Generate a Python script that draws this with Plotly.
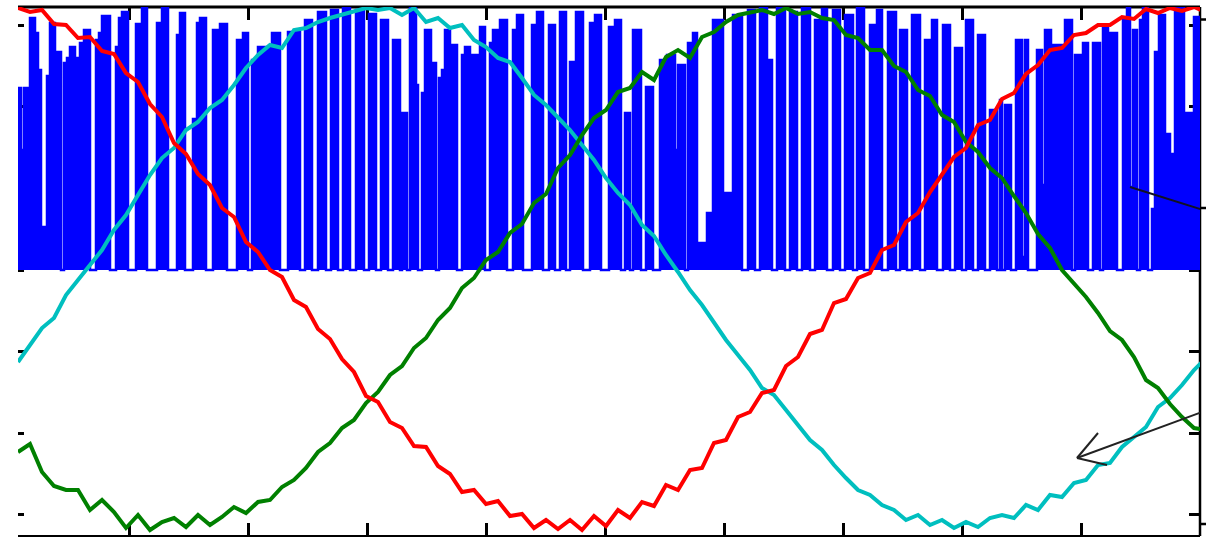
import numpy as np
import plotly.graph_objects as go

# time base: sample index (one sample per step of the current record)
n_cur = np.arange(8, 1207, 12)

# phase currents (A)
ia = [262, 258, 260, 246, 245, 232, 233, 219, 216, 197, 188, 166, 153, 127, 116, 96, 85, 62, 53, 28,
      18, 0, -7, -30, -37, -59, -69, -89, -102, -126, -132, -152, -158, -176, -177, -196, -204, -222, -220, -234,
      -231, -246, -244, -258, -250, -259, -250, -260, -246, -256, -240, -248, -232, -236, -215, -220, -200, -198, -173, -170,
      -147, -142, -123, -120, -96, -87, -64, -60, -33, -29, -8, -3, 20, 25, 48, 57, 78, 95, 113, 122,
      145, 150, 171, 177, 196, 205, 220, 222, 235, 237, 245, 245, 253, 251, 261, 257, 262, 259, 263, 258]
ib = [-182, -174, -202, -216, -220, -220, -240, -230, -242, -258, -245, -260, -252, -248, -257, -245, -255, -247, -237, -243,
      -232, -230, -217, -210, -198, -182, -173, -158, -150, -133, -122, -105, -96, -78, -68, -50, -38, -18, -8, 10,
      18, 37, 46, 67, 76, 102, 115, 135, 152, 160, 178, 182, 198, 190, 213, 220, 212, 233, 238, 248,
      255, 258, 260, 256, 262, 256, 258, 252, 250, 235, 232, 220, 220, 204, 198, 180, 174, 155, 148, 128,
      118, 102, 92, 74, 57, 36, 22, 0, -13, -27, -43, -61, -70, -87, -110, -118, -134, -147, -158, -160]
ic = [-92, -75, -58, -48, -25, -10, 5, 20, 40, 55, 75, 95, 112, 122, 140, 148, 162, 170, 185, 202,
      215, 225, 222, 240, 242, 248, 252, 255, 258, 262, 260, 262, 255, 262, 248, 252, 242, 245, 230, 223,
      212, 208, 192, 175, 165, 152, 140, 125, 110, 92, 77, 65, 45, 34, 15, -2, -20, -35, -52, -70,
      -85, -100, -118, -125, -140, -155, -170, -180, -195, -208, -220, -225, -235, -240, -250, -245, -255, -250, -258, -252,
      -257, -248, -245, -248, -235, -240, -225, -227, -213, -210, -195, -193, -177, -167, -157, -137, -128, -115, -100, -88]

# inverter output voltage pulses: start sample, end sample, level (V); zero between pulses
pulse_start = [8, 11, 14, 20, 25, 28, 31, 37, 40, 45, 54, 57, 60, 65, 70, 74, 86, 89, 92, 106, 109, 112,
               126, 132, 147, 152, 167, 170, 183, 187, 190, 203, 210, 227, 233, 242, 248, 262, 278, 295, 308, 321,
               333, 346, 359, 371, 383, 392, 400, 406, 412, 415, 421, 429, 432, 435, 440, 452, 455, 460, 470, 480,
               483, 490, 503, 507, 522, 527, 539, 550, 560, 566, 580, 585, 599, 605, 615, 623, 636, 650, 657, 665,
               668, 678, 683, 687, 697, 703, 713, 723, 738, 750, 757, 767, 780, 792, 805, 812, 823, 835, 847, 860,
               867, 878, 890, 902, 915, 922, 933, 945, 956, 968, 980, 990, 995, 1006, 1012, 1015, 1027, 1032, 1035, 1041,
               1055, 1065, 1073, 1083, 1093, 1098, 1113, 1117, 1120, 1123, 1130, 1133, 1142, 1145, 1149, 1155, 1160, 1165, 1174, 1184]
pulse_end = [11, 14, 20, 25, 28, 31, 37, 40, 45, 51, 57, 60, 65, 70, 74, 80, 89, 92, 100, 109, 112, 118,
             132, 137, 152, 158, 170, 175, 187, 190, 196, 210, 217, 233, 238, 248, 260, 270, 290, 302, 316, 328,
             340, 354, 366, 378, 390, 397, 406, 408, 415, 421, 426, 432, 435, 440, 447, 455, 460, 468, 475, 483,
             490, 497, 507, 513, 527, 533, 545, 556, 566, 573, 585, 591, 605, 611, 620, 631, 643, 657, 665, 668,
             675, 683, 687, 697, 703, 713, 723, 732, 745, 757, 762, 775, 787, 800, 812, 817, 830, 843, 854, 867,
             872, 886, 897, 910, 922, 927, 940, 952, 963, 975, 987, 992, 1001, 1012, 1015, 1018, 1032, 1035, 1041, 1055,
             1062, 1073, 1078, 1090, 1098, 1107, 1117, 1120, 1123, 1127, 1133, 1138, 1145, 1149, 1155, 1160, 1165, 1174, 1184, 1192]
pulse_level = [182, 120, 182, 252, 237, 200, 43, 194, 247, 218, 207, 212, 223, 212, 227, 240, 230, 237, 254, 223, 252, 258,
               246, 262, 247, 262, 235, 257, 151, 247, 252, 240, 246, 230, 237, 210, 223, 237, 238, 250, 258, 260,
               262, 260, 256, 250, 230, 157, 263, 185, 177, 240, 207, 192, 200, 240, 225, 215, 223, 215, 243, 227,
               240, 250, 240, 255, 245, 258, 245, 258, 208, 258, 247, 255, 243, 250, 157, 240, 183, 210, 215, 120,
               205, 227, 237, 27, 57, 250, 77, 255, 260, 262, 210, 262, 258, 262, 250, 261, 260, 255, 262, 245,
               260, 258, 240, 255, 230, 250, 245, 222, 250, 235, 160, 170, 165, 230, 13, 230, 220, 85, 240, 225,
               250, 215, 227, 227, 243, 237, 252, 263, 83, 240, 250, 262, 61, 218, 255, 136, 116, 263, 157, 253]

blue_n, blue_v = [], []
for i, (s, e, lv) in enumerate(zip(pulse_start, pulse_end, pulse_level)):
    blue_n.append(s)
    blue_v.append(lv)
    nxt = pulse_start[i + 1] if i + 1 < len(pulse_start) else None
    if nxt != e:
        blue_n.append(e)
        blue_v.append(0)

xticks = [119, 238, 357, 476, 595, 714, 833, 952, 1071, 1190]
yticks = [-244.8, -163.2, -81.6, 0, 81.6, 163.2, 244.8]
outer_right_ticks = [250.5, 62, -254]
XR = [8, 1190]
YR = [-266, 263]

fig = go.Figure()
fig.add_trace(go.Scatter(x=blue_n, y=blue_v, mode='lines', fill='tozeroy', fillcolor='#0000FF',
                         line=dict(color='#0000FF', width=2.5, shape='hv'), hoverinfo='skip'))
fig.add_trace(go.Scatter(x=n_cur, y=ic, mode='lines', line=dict(color='#00BFBF', width=4)))
fig.add_trace(go.Scatter(x=n_cur, y=ib, mode='lines', line=dict(color='#008000', width=4)))
fig.add_trace(go.Scatter(x=n_cur, y=ia, mode='lines', line=dict(color='#FF0000', width=4)))
fig.add_trace(go.Scatter(x=[None], y=[None], yaxis='y2', showlegend=False))

shapes = [
    dict(type='line', xref='paper', yref='paper', x0=0, x1=1, y0=1, y1=1, line=dict(color='black', width=3), layer='below'),
    dict(type='line', xref='paper', yref='paper', x0=1, x1=1, y0=0, y1=1, line=dict(color='black', width=2.5), layer='below'),
    dict(type='line', xref='paper', yref='paper', x0=0, x1=1, y0=0, y1=0, line=dict(color='black', width=2), layer='below'),
    # annotation arrows
    dict(type='line', xref='x', yref='y', x0=1120, y0=83, x1=1193, y1=60, line=dict(color='#111122', width=2)),
    dict(type='line', xref='x', yref='y', x0=1192, y0=-142, x1=1067, y1=-188, line=dict(color='#222222', width=2)),
    dict(type='line', xref='x', yref='y', x0=1067, y0=-188, x1=1088, y1=-163, line=dict(color='#222222', width=2)),
    dict(type='line', xref='x', yref='y', x0=1067, y0=-188, x1=1097, y1=-195, line=dict(color='#222222', width=2)),
]
for yv in outer_right_ticks:
    shapes.append(dict(type='line', xref='paper', yref='y', x0=1.0, x1=1.0 + 6 / 1182, y0=yv, y1=yv,
                       line=dict(color='black', width=2.5)))

fig.update_layout(
    width=1212, height=537, margin=dict(l=18, r=12, t=7, b=1),
    plot_bgcolor='white', paper_bgcolor='white', showlegend=False, shapes=shapes,
    xaxis=dict(range=XR, tickvals=xticks, ticks='inside', ticklen=13, tickwidth=3, tickcolor='black',
               showticklabels=False, showgrid=False, zeroline=False, showline=False, mirror='ticks',
               layer='below traces'),
    yaxis=dict(range=YR, tickvals=yticks, ticks='inside', ticklen=6, tickwidth=3, tickcolor='black',
               showticklabels=False, showgrid=False, zeroline=False, showline=False, layer='below traces'),
    yaxis2=dict(range=YR, overlaying='y', side='right', tickvals=yticks, ticks='inside', ticklen=11, tickwidth=3,
                tickcolor='black', showticklabels=False, showgrid=False, zeroline=False, showline=False,
                layer='below traces'),
)
fig.write_html("out.html", config={'displayModeBar': False})

# remove the browser's default page margin so the figure sits at the window origin
with open("out.html", encoding="utf-8") as f:
    html = f.read()
html = html.replace("<head>", "<head><style>html,body{margin:0;padding:0;overflow:hidden}</style>", 1)
with open("out.html", "w", encoding="utf-8") as f:
    f.write(html)
